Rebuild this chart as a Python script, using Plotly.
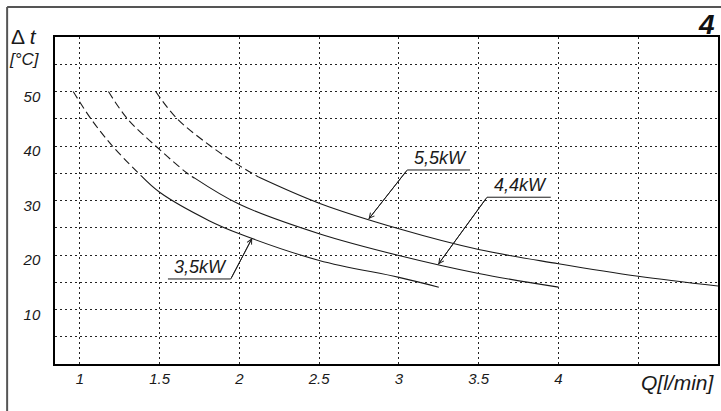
import numpy as np
import plotly.graph_objects as go

# ---- data (Q [l/min], delta t [°C]) ----
q_35_dash = [0.958, 1.069, 1.204, 1.385]
t_35_dash = [50.0, 45.0, 40.0, 34.5]
q_35 = [1.385, 1.5, 1.81, 2.0, 2.5, 3.0, 3.25]
t_35 = [34.5, 31.5, 26.3, 23.9, 19.0, 15.9, 14.1]

q_44_dash = [1.179, 1.298, 1.475, 1.673, 1.72]
t_44_dash = [50.0, 45.0, 40.0, 35.0, 34.1]
q_44 = [1.72, 2.0, 2.5, 3.0, 3.5, 4.0]
t_44 = [34.1, 29.3, 23.9, 19.9, 16.6, 14.1]

q_55_dash = [1.475, 1.61, 1.819, 2.0, 2.12]
t_55_dash = [50.0, 45.0, 40.0, 36.4, 34.3]
q_55 = [2.12, 2.5, 3.0, 3.5, 4.0, 4.5, 5.0]
t_55 = [34.3, 29.5, 24.8, 21.0, 18.4, 16.1, 14.3]

series_names = ["3,5kW", "4,4kW", "5,5kW"]

x_tick_vals = [1, 1.5, 2, 2.5, 3, 3.5, 4, 4.5]
x_tick_text = ["1", "1.5", "2", "2.5", "3", "3.5", "4", ""]
y_tick_vals = [5, 10, 15, 20, 25, 30, 35, 40, 45, 50, 55]
y_tick_text = ["", "10", "", "20", "", "30", "", "40", "", "50", ""]

FONT = "Liberation Sans"
INK = "#1a1a1a"

fig = go.Figure()

curves = [
    (q_35_dash, t_35_dash, q_35, t_35),
    (q_44_dash, t_44_dash, q_44, t_44),
    (q_55_dash, t_55_dash, q_55, t_55),
]
for (qd, td, qs, ts), name in zip(curves, series_names):
    fig.add_trace(go.Scatter(x=qd, y=td, mode="lines", name=name,
                             line=dict(color=INK, width=1.1, dash="8px,4px",
                                       shape="spline", smoothing=1.0),
                             showlegend=False, hoverinfo="skip"))
    fig.add_trace(go.Scatter(x=qs, y=ts, mode="lines", name=name,
                             line=dict(color=INK, width=1.1,
                                       shape="spline", smoothing=1.0),
                             showlegend=False))

# ---- labels with underline and leader arrow ----
label_layout = [
    dict(tip=2.08, ux0=1.552, ux1=1.946, uy=15.6, lead="x1", curve=(q_35, t_35)),
    dict(tip=3.246, ux0=3.552, ux1=3.952, uy=30.6, lead="x0", curve=(q_44, t_44)),
    dict(tip=2.81, ux0=3.052, ux1=3.446, uy=35.6, lead="x0", curve=(q_55, t_55)),
]
shapes = []
annotations = []
for lab, name in zip(label_layout, series_names):
    qs, ts = lab["curve"]
    tip_y = float(np.interp(lab["tip"], qs, ts))
    lx = lab["ux1"] if lab["lead"] == "x1" else lab["ux0"]
    shapes.append(dict(type="line", xref="x", yref="y", x0=lab["ux0"], x1=lab["ux1"],
                       y0=lab["uy"], y1=lab["uy"], line=dict(color=INK, width=1)))
    shapes.append(dict(type="line", xref="x", yref="y", x0=lx, x1=lab["tip"],
                       y0=lab["uy"], y1=tip_y, line=dict(color=INK, width=1)))
    annotations.append(dict(x=lab["tip"], y=tip_y, xref="x", yref="y",
                            ax=lx, ay=lab["uy"], axref="x", ayref="y",
                            text="", font=dict(size=1), showarrow=True,
                            arrowhead=5, arrowsize=1.1, arrowwidth=0.9,
                            arrowcolor=INK, standoff=0, startstandoff=0))
    annotations.append(dict(x=(lab["ux0"] + lab["ux1"]) / 2 + 0.01, y=lab["uy"],
                            xref="x", yref="y", text=name, showarrow=False,
                            yanchor="bottom", xanchor="center", yshift=0,
                            font=dict(family=FONT, size=18, color=INK, style="italic")))

# outer frame (top and left edges)
shapes.append(dict(type="line", xref="paper", yref="paper", x0=-0.0722, x1=1.01,
                   y0=1.0917, y1=1.0917, line=dict(color="#555", width=2)))
shapes.append(dict(type="line", xref="paper", yref="paper", x0=-0.0722, x1=-0.0722,
                   y0=1.0917, y1=-0.2, line=dict(color="#555", width=2)))

# axis titles / panel number
annotations += [
    dict(x=-0.0466, y=1.0015, xref="paper", yref="paper", text="Δ <i>t</i>",
         showarrow=False, xanchor="center", yanchor="middle",
         font=dict(family=FONT, size=21, color=INK)),
    dict(x=-0.0466, y=0.930, xref="paper", yref="paper", text="[°C]",
         showarrow=False, xanchor="center", yanchor="middle",
         font=dict(family=FONT, size=17, color=INK, style="italic")),
    dict(x=0.9398, y=-0.056, xref="paper", yref="paper", text="Q[l/min]",
         showarrow=False, xanchor="center", yanchor="middle",
         font=dict(family=FONT, size=21, color=INK, style="italic")),
    dict(x=0.9985, y=1.037, xref="paper", yref="paper", text="<b>4</b>",
         showarrow=False, xanchor="right", yanchor="middle",
         font=dict(family=FONT, size=28, color="#111", style="italic")),
]

grid = dict(showgrid=True, gridcolor="#222", gridwidth=1, griddash="1.5px,3.5px")

fig.update_layout(
    width=721, height=411,
    margin=dict(l=55, r=1, t=37, b=47),
    paper_bgcolor="white", plot_bgcolor="white",
    shapes=shapes, annotations=annotations,
    xaxis=dict(range=[0.844, 5.0], tickvals=x_tick_vals, ticktext=x_tick_text,
               showline=True, linecolor="black", linewidth=1.5, mirror=True,
               zeroline=False, ticks="", ticklabelstandoff=0,
               tickfont=dict(family=FONT, size=15, color=INK, style="italic"), **grid),
    yaxis=dict(range=[0, 60], tickvals=y_tick_vals, ticktext=y_tick_text,
               showline=True, linecolor="black", linewidth=1.5, mirror=True,
               zeroline=False, ticks="", ticklabelstandoff=10, ticklabelshift=5,
               tickfont=dict(family=FONT, size=15, color=INK, style="italic"), **grid),
)

fig.write_html("out.html", config={"displayModeBar": False},
               post_script="document.body.style.margin='0';document.body.style.overflow='hidden';")
